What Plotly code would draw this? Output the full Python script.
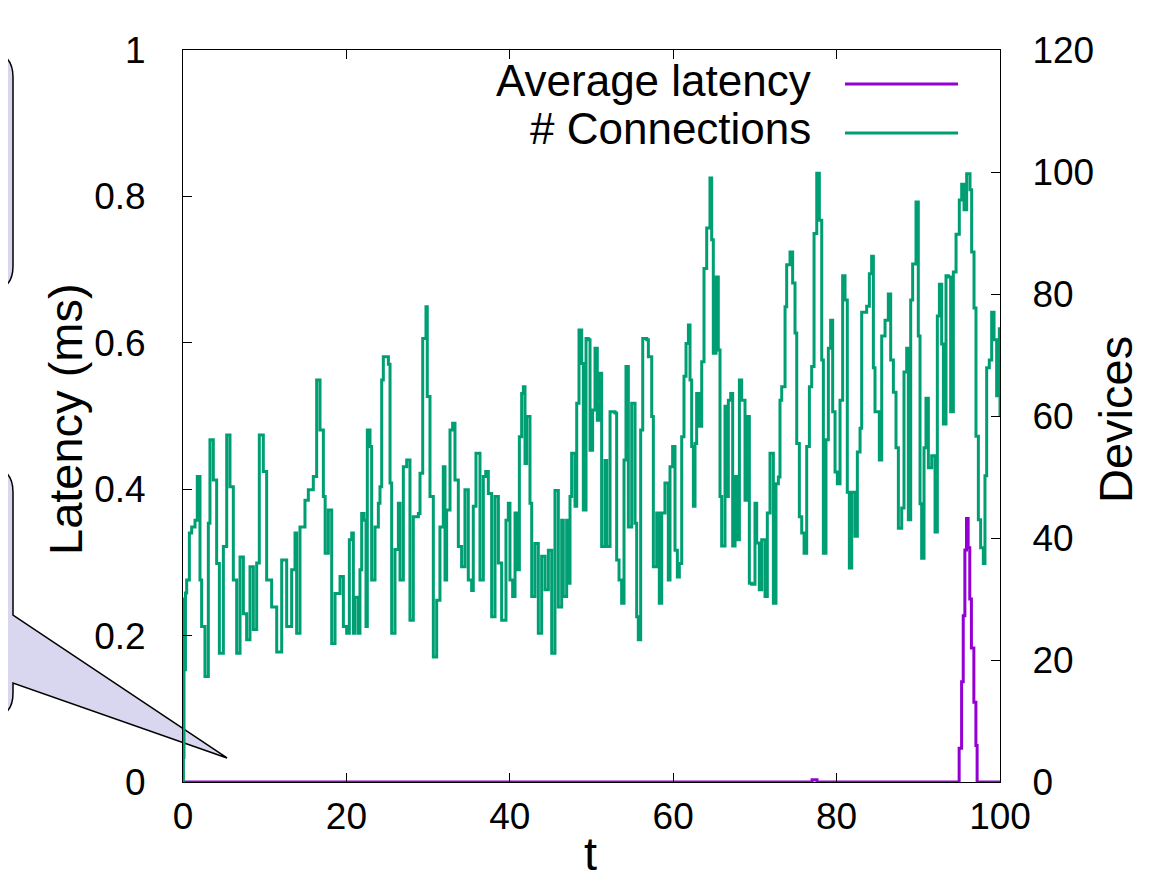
import plotly.graph_objects as go

# ---------------- data ----------------
conn_t = [0.00, 0.05, 0.12, 0.20, 0.30, 0.45, 0.78, 1.06, 1.47, 1.75, 2.08, 2.28, 2.69, 3.10, 3.30, 3.71,
          4.12, 4.45, 4.94, 5.35, 5.75, 6.16, 6.57, 6.98, 7.39, 7.79, 8.20, 8.61, 9.02, 9.34, 9.83, 10.24,
          10.85, 11.47, 12.08, 12.69, 13.30, 13.71, 13.91, 14.32, 14.93, 15.34, 15.95, 16.36, 16.77, 17.18,
          17.40, 17.79, 18.20, 18.61, 19.22, 19.63, 20.03, 20.36, 20.65, 20.85, 21.05, 21.46, 21.66, 21.87,
          22.15, 22.40, 22.56, 22.89, 23.09, 23.50, 23.91, 24.11, 24.32, 24.52, 25.14, 25.34, 25.54, 25.95,
          26.36, 26.56, 26.97, 27.38, 27.78, 28.19, 28.81, 29.01, 29.34, 29.74, 29.90, 30.23, 30.64, 31.05,
          31.45, 31.86, 32.07, 32.27, 32.68, 33.00, 33.29, 33.70, 34.10, 34.51, 34.92, 35.33, 35.53, 35.86,
          36.35, 36.76, 37.05, 37.37, 37.78, 38.19, 38.60, 39.00, 39.53, 39.82, 40.02, 40.35, 40.64, 40.92,
          41.17, 41.45, 41.66, 41.86, 42.06, 42.47, 42.68, 43.08, 43.49, 43.90, 44.31, 44.72, 45.13, 45.53,
          45.94, 46.35, 46.55, 46.96, 47.17, 47.37, 47.57, 47.98, 48.19, 48.47, 48.80, 49.00, 49.33, 49.61,
          49.82, 50.14, 50.43, 50.71, 51.04, 51.24, 51.65, 51.86, 52.27, 52.88, 53.08, 53.37, 53.69, 53.98,
          54.22, 54.51, 54.92, 55.33, 55.53, 55.73, 56.02, 56.27, 56.76, 56.96, 57.37, 57.57, 57.98, 58.30,
          58.59, 58.99, 59.40, 59.61, 59.93, 60.22, 60.51, 60.75, 61.04, 61.32, 61.57, 61.86, 62.06, 62.26,
          62.47, 62.67, 62.87, 63.20, 63.49, 63.77, 64.10, 64.50, 64.71, 64.91, 65.24, 65.52, 65.73, 65.93,
          66.34, 66.54, 66.75, 67.04, 67.28, 67.57, 67.85, 68.10, 68.38, 68.79, 69.08, 69.32, 69.61, 70.01,
          70.22, 70.54, 70.83, 71.24, 71.52, 71.85, 72.26, 72.58, 72.87, 73.07, 73.28, 73.69, 73.89, 74.30,
          74.62, 74.91, 75.12, 75.44, 75.73, 76.02, 76.34, 76.67, 76.95, 77.24, 77.57, 77.89, 78.18, 78.38,
          78.70, 78.99, 79.27, 79.52, 79.81, 80.09, 80.42, 80.74, 81.03, 81.31, 81.56, 81.85, 82.25, 82.54,
          82.87, 83.07, 83.68, 84.01, 84.29, 84.50, 84.70, 85.23, 85.52, 85.93, 86.33, 86.62, 86.95, 87.27,
          87.56, 87.97, 88.25, 88.58, 88.78, 89.07, 89.31, 89.72, 90.00, 90.21, 90.41, 90.70, 90.94, 91.23,
          91.64, 92.05, 92.33, 92.58, 92.86, 93.07, 93.39, 93.68, 93.96, 94.29, 94.62, 95.02, 95.31, 95.60,
          95.92, 96.33, 96.53, 96.82, 97.06, 97.35, 97.63, 97.96, 98.16, 98.37, 98.69, 98.98, 99.27, 99.59,
          99.92, 100.0]
conn_devices = [0, 4, 30, 18.4, 31, 33.1, 40.8, 41.8, 42.9, 50.1, 33.1, 25.5, 17.3, 42.4, 56.1, 49.5,
                35.8, 21.1, 38.6, 56.9, 48.4, 33.1, 21.1, 36.9, 27.6, 23.3, 35.3, 25.0, 35.9, 56.9, 50.9, 33.1,
                28.7, 21.3, 36.4, 25.5, 34.8, 40.8, 24.4, 41.8, 46.2, 47.9, 50.1, 65.9, 57.7, 46.8,
                37.5, 44.6, 22.7, 30.9, 33.7, 25.5, 24.4, 39.7, 40.8, 24.4, 30.3, 24.4, 34.8, 44.0,
                42.9, 25.5, 57.7, 55.0, 33.1, 41.8, 45.7, 48.4, 65.9, 69.7, 68.5, 49.0, 24.4, 38.1,
                45.7, 33.1, 51.7, 52.8, 26.5, 43.5, 44.0, 50.6, 72.7, 77.9, 63.2, 46.8, 20.5, 29.8,
                41.8, 51.7, 33.1, 44.6, 57.7, 58.8, 49.5, 38.6, 35.3, 47.9, 33.1, 31.4, 45.2, 53.9,
                33.1, 50.1, 50.9, 47.3, 27.1, 46.8, 35.9, 26.5, 42.9, 45.7, 33.1, 30.4, 44.1, 34.8,
                56.6, 63.7, 64.8, 52.2, 59.9, 45.7, 30.4, 39.1, 24.4, 37.0, 31.5, 38.0, 21.1, 47.8,
                28.7, 42.9, 30.4, 42.9, 32.6, 46.8, 53.9, 45.2, 62.1, 74.1, 68.6, 44.6, 72.7, 72.5,
                54.4, 61.0, 71.1, 59.3, 67.0, 38.6, 52.7, 38.6, 60.7, 60.5, 36.4, 33.1, 29.3, 52.8,
                68.1, 41.8, 62.1, 42.4, 27.1, 23.3, 57.7, 72.7, 72.5, 69.7, 59.9, 35.3, 44.1, 29.3,
                44.1, 49.0, 33.1, 51.7, 55.0, 38.0, 33.6, 35.8, 56.6, 66.5, 71.9, 74.9, 65.9, 55.0,
                45.2, 55.5, 63.7, 58.3, 68.9, 84.2, 90.8, 99.0, 88.9, 70.3, 82.8, 70.8, 46.8, 38.7,
                61.6, 46.8, 62.6, 63.7, 38.7, 50.1, 39.7, 65.9, 62.6, 46.2, 59.9, 32.6, 32.4, 45.7,
                39.2, 31.5, 39.7, 30.4, 44.1, 53.9, 29.3, 48.9, 50.0, 62.6, 64.8, 77.9, 84.8, 86.9,
                81.8, 73.6, 55.5, 43.5, 40.8, 37.5, 55.0, 64.8, 68.1, 89.9, 99.8, 92.1, 69.2, 37.5,
                56.1, 71.1, 75.7, 60.7, 50.8, 48.9, 62.6, 83.0, 79.0, 47.5, 35.1, 47.5, 40.3, 54.1,
                58.0, 77.0, 78.0, 83.3, 86.2, 67.9, 60.7, 52.8, 73.1, 75.7, 80.0, 69.2, 63.9, 54.8,
                41.6, 44.9, 67.2, 71.1, 43.0, 79.0, 84.9, 95.1, 73.1, 45.6, 36.7, 54.8, 62.9, 51.5,
                53.5, 41.0, 76.4, 81.6, 71.8, 58.7, 83.0, 82.8, 60.7, 83.6, 89.8, 95.4, 98.0, 93.8,
                99.7, 97.1, 86.9, 77.7, 56.7, 43.0, 38.4, 35.8, 50.2, 67.9, 69.2, 77.0, 72.5, 63.3,
                74.3, 60.0]

lat_t = [0, 76.8, 77.0, 77.4, 77.6, 94.9, 95.0, 95.3, 95.5, 95.7, 95.9, 96.1, 96.3, 96.5, 96.8,
         97.05, 97.2, 100]
lat_ms = [0, 0, 0.003, 0.003, 0, 0, 0.046, 0.137, 0.227, 0.317, 0.36, 0.32, 0.25, 0.183, 0.109,
          0.05, 0, 0]

x_ticks = [0, 20, 40, 60, 80, 100]
y_ticks = [0, 0.2, 0.4, 0.6, 0.8, 1]
y_tick_text = ["0", "0.2", "0.4", "0.6", "0.8", "1"]
y2_ticks = [0, 20, 40, 60, 80, 100, 120]

legend_names = ["Average latency", "# Connections"]

# ---------------- styling ----------------
PURPLE = "#9400d3"
GREEN = "#009e73"
FONT = "Liberation Sans, Arial, sans-serif"
OFF = 8                       # page body margin
W, H = 1172 - OFF, 879 - OFF
L, R, T, B = 183, 1000, 50, 782   # plot area in screen pixels


def px(x):
    return (x - L) / (R - L)


def py(y):
    return (B - y) / (B - T)


fig = go.Figure()
fig.add_trace(go.Scatter(x=lat_t, y=lat_ms, mode="lines", line=dict(color=PURPLE, width=3, shape="hv"),
                         name=legend_names[0], showlegend=False, yaxis="y"))
fig.add_trace(go.Scatter(x=conn_t, y=conn_devices, mode="lines", line=dict(color=GREEN, width=3, shape="hv"),
                         name=legend_names[1], showlegend=False, yaxis="y2"))

axis_common = dict(showgrid=False, zeroline=False, showline=True, linecolor="black", linewidth=1,
                   ticks="inside", ticklen=9, tickcolor="black", tickwidth=1,
                   tickfont=dict(family=FONT, size=37, color="black"))

fig.update_layout(
    width=W, height=H,
    margin=dict(l=L - OFF, r=W - (R - OFF), t=T - OFF, b=H - (B - OFF), pad=0),
    paper_bgcolor="white", plot_bgcolor="white",
    xaxis=dict(range=[0, 100], tickvals=x_ticks, mirror="ticks", ticklabelstandoff=2, **axis_common),
    yaxis=dict(range=[0, 1], tickvals=y_ticks, ticktext=y_tick_text, ticklabelstandoff=29, **axis_common),
    yaxis2=dict(range=[0, 120], tickvals=y2_ticks, overlaying="y", side="right", ticklabelstandoff=24,
                **axis_common),
    showlegend=False,
)

# axis titles
fig.add_annotation(text="Latency (ms)", xref="paper", yref="paper", x=px(66), y=py(419), textangle=-90,
                   showarrow=False, font=dict(family=FONT, size=47, color="black"),
                   xanchor="center", yanchor="middle")
fig.add_annotation(text="Devices", xref="paper", yref="paper", x=px(1115), y=py(420), textangle=-90,
                   showarrow=False, font=dict(family=FONT, size=47, color="black"),
                   xanchor="center", yanchor="middle")
fig.add_annotation(text="t", xref="paper", yref="paper", x=px(590), y=py(853), showarrow=False,
                   font=dict(family=FONT, size=47, color="black"), xanchor="center", yanchor="middle")

# key (gnuplot style: text then line sample)
for name, col, yt, yl in [(legend_names[0], PURPLE, 80, 84), (legend_names[1], GREEN, 128, 133)]:
    fig.add_annotation(text=name, xref="paper", yref="paper", x=px(813), y=py(yt), showarrow=False,
                       font=dict(family=FONT, size=44, color="black"), xanchor="right", yanchor="middle")
    fig.add_shape(type="line", xref="paper", yref="paper", x0=px(845), x1=px(958), y0=py(yl), y1=py(yl),
                  line=dict(color=col, width=3))

# callout bubbles


def path(points):
    parts = []
    for cmd, *pts in points:
        coords = " ".join(f"{px(a):.5f},{py(b):.5f}" for a, b in zip(pts[0::2], pts[1::2]))
        parts.append(f"{cmd} {coords}")
    return " ".join(parts) + " Z"


bubble1 = path([("M", -80, 52), ("L", -12, 52), ("Q", 13, 52, 13, 77), ("L", 13, 266),
                ("Q", 13, 291, -12, 291), ("L", -80, 291)])
bubble2 = path([("M", -80, 467), ("L", -12, 467), ("Q", 13, 467, 13, 492), ("L", 13, 615),
                ("L", 227, 758), ("L", 13, 683), ("L", 13, 693), ("Q", 13, 718, -12, 718),
                ("L", -80, 718)])
for p in (bubble1, bubble2):
    fig.add_shape(type="path", xref="paper", yref="paper", path=p, fillcolor="#d8d7ef",
                  line=dict(color="black", width=1.5), layer="below")

fig.write_html("out.html")
